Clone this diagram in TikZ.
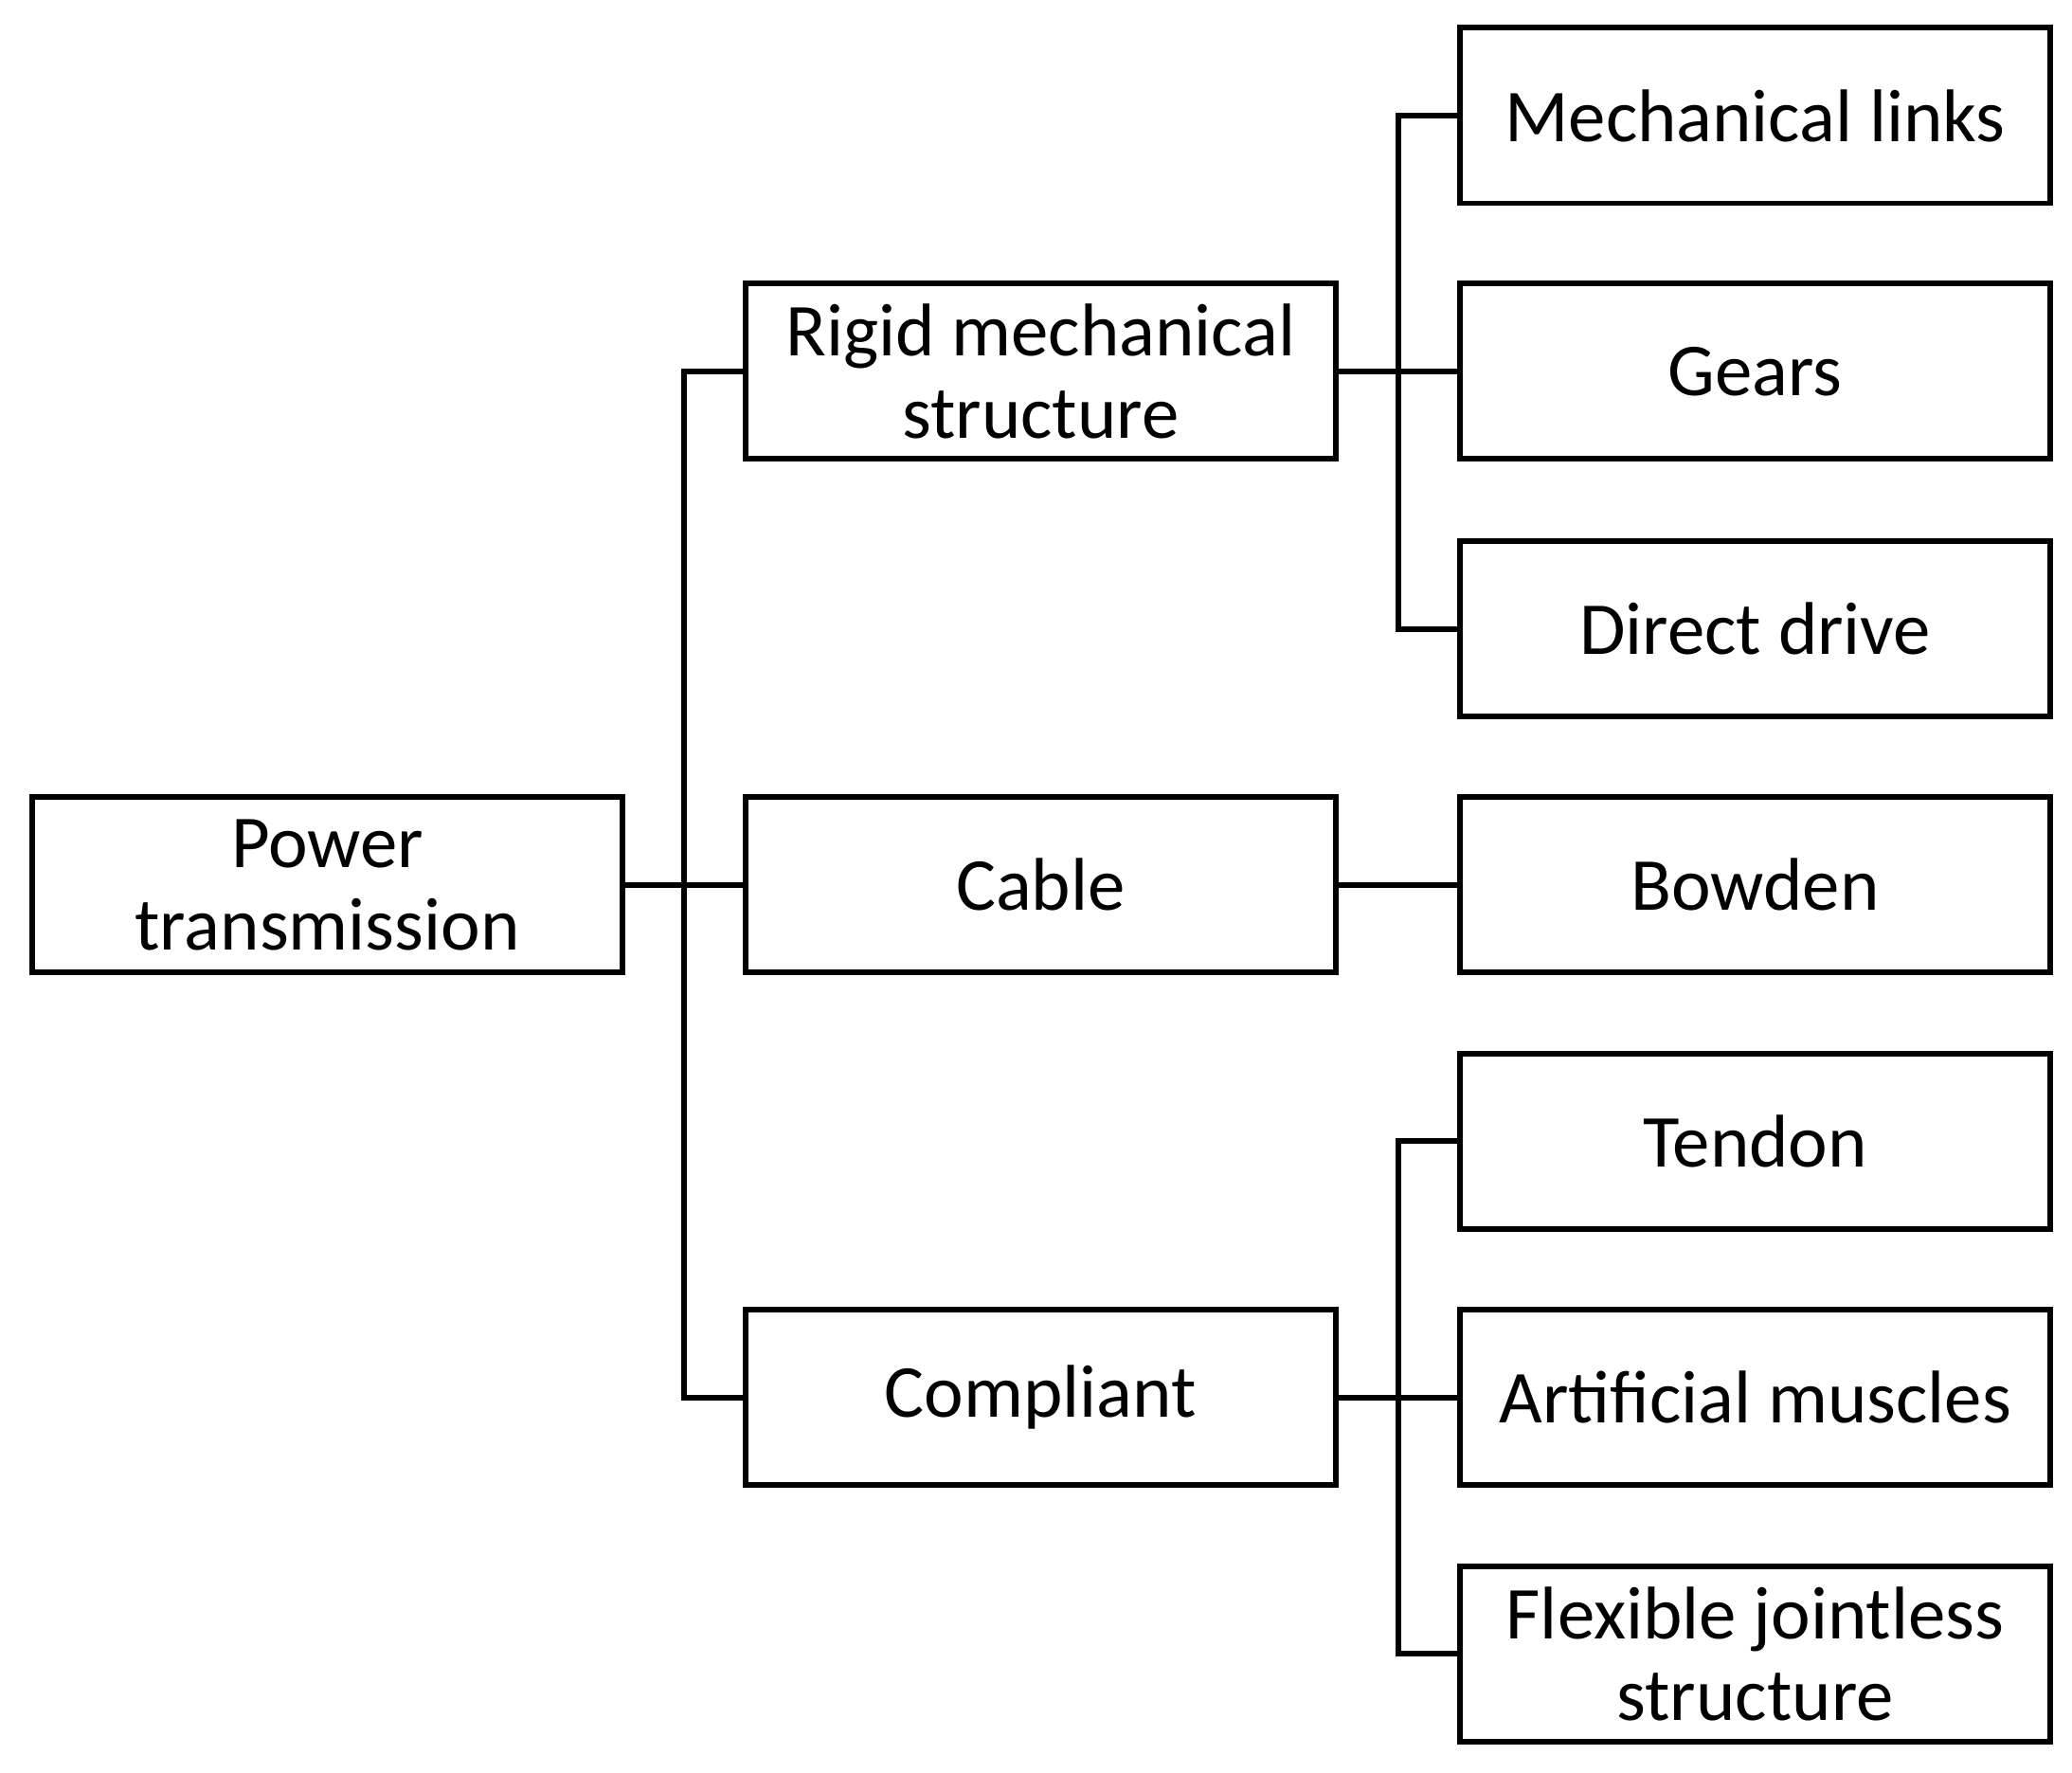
\documentclass[tikz,border=0pt]{standalone}
\usepackage{fontspec}
\setmainfont{Carlito}
\begin{document}
\begin{tikzpicture}[x=0.05cm,y=-0.05cm,
  box/.style={draw,line width=6pt,minimum width=22.2cm,minimum height=6.6cm,align=center,inner sep=0pt,font=\fontsize{80}{88}\selectfont},
  ln/.style={line width=6pt}]
\useasboundingbox (0,0) rectangle (1560,1334);
\node[box] (p) at (246.5,666) {Power\\transmission};
\node[box] (r) at (783.5,279.5) {Rigid mechanical\\structure};
\node[box] (c) at (783.5,666) {Cable};
\node[box] (k) at (783.5,1052) {Compliant};
\node[box] (m) at (1321.5,87) {Mechanical links};
\node[box] (g) at (1321.5,279.5) {Gears};
\node[box] (d) at (1321.5,473.5) {Direct drive};
\node[box] (b) at (1321.5,666) {Bowden};
\node[box] (t) at (1321.5,859) {Tendon};
\node[box] (a) at (1321.5,1052) {Artificial muscles};
\node[box] (f) at (1321.5,1245) {Flexible jointless\\structure};
\coordinate (j0) at (515,666);
\coordinate (j1) at (1053,279.5);
\coordinate (j2) at (1053,1052);
\draw[ln] (p.east) -- (c.west);
\draw[ln] (j0) |- (r.west);
\draw[ln] (j0) |- (k.west);
\draw[ln] (r.east) -- (g.west);
\draw[ln] (j1) |- (m.west);
\draw[ln] (j1) |- (d.west);
\draw[ln] (c.east) -- (b.west);
\draw[ln] (k.east) -- (a.west);
\draw[ln] (j2) |- (t.west);
\draw[ln] (j2) |- (f.west);
\end{tikzpicture}
\end{document}
